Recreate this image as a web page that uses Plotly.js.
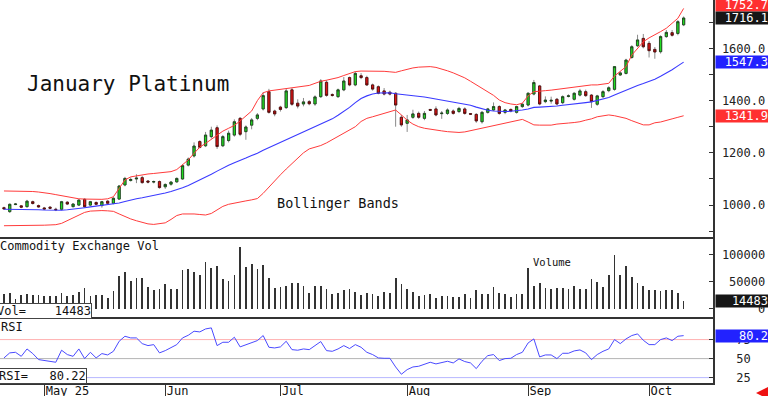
<!DOCTYPE html>
<html>
<head>
<meta charset="utf-8">
<script src="https://cdn.plot.ly/plotly-3.0.1.min.js"></script>
<style>html,body{margin:0;padding:0;background:#fff;}#chart{width:768px;height:396px;}</style>
</head>
<body>
<div id="chart"></div>
<script>
// ---------- DATA ----------
const openP = [990,975,1002,997,994,1013,998,989,992,984,
  984,1011,994,1000,1022,1000,1010,998,1015,1007,
  1023,1077,1094,1100,1105,1092,1088,1090,1070,1080,
  1089,1100,1153,1188,1243,1227,1262,1296,1227,1247,
  1268,1332,1281,1306,1332,1368,1434,1360,1375,1373,
  1441,1390,1387,1396,1387,1415,1470,1423,1415,1441,
  1488,1460,1495,1488,1460,1453,1437,1432,1428,1336,
  1313,1336,1351,1332,1366,1368,1350,1351,1360,1358,
  1368,1350,1347,1319,1355,1364,1377,1355,1366,1355,
  1377,1383,1425,1456,1396,1398,1405,1392,1416,1405,
  1421,1434,1421,1386,1415,1438,1443,1498,1504,1565,
  1610,1638,1619,1596,1587,1645,1660,1657,1690];
const highP = [994,1006,1008,1000,1020,1017,1002,993,996,990,
  1016,1015,1007,1023,1026,1016,1014,1016,1019,1030,
  1076,1108,1106,1118,1112,1096,1094,1094,1083,1092,
  1106,1156,1182,1240,1248,1280,1300,1305,1268,1285,
  1328,1337,1305,1333,1352,1432,1445,1365,1380,1445,
  1448,1405,1410,1402,1420,1482,1478,1428,1446,1490,
  1492,1512,1505,1495,1465,1458,1448,1438,1432,1345,
  1345,1365,1358,1360,1368,1378,1360,1370,1366,1376,
  1374,1352,1352,1360,1372,1393,1382,1368,1370,1380,
  1390,1432,1479,1460,1416,1415,1410,1420,1424,1432,
  1445,1442,1425,1422,1440,1455,1532,1512,1560,1612,
  1652,1655,1628,1605,1650,1670,1670,1708,1722];
const lowP = [982,970,1000,988,990,1002,990,982,984,977,
  980,1000,991,997,990,997,999,990,1003,1003,
  1020,1072,1090,1084,1082,1083,1083,1063,1062,1074,
  1085,1097,1148,1182,1217,1222,1255,1215,1222,1240,
  1262,1264,1250,1290,1325,1362,1350,1340,1358,1368,
  1380,1370,1378,1382,1380,1410,1415,1415,1410,1436,
  1455,1455,1482,1456,1438,1424,1420,1420,1300,1300,
  1280,1330,1330,1325,1360,1340,1330,1345,1346,1352,
  1346,1345,1315,1312,1350,1360,1346,1348,1355,1350,
  1372,1378,1420,1382,1390,1388,1382,1386,1412,1400,
  1416,1414,1372,1380,1410,1432,1438,1494,1500,1560,
  1605,1600,1565,1560,1580,1640,1645,1650,1685];
const closeP = [986,1003,1004,992,1015,1006,993,985,988,982,
  1013,1004,1004,1019,994,1013,1003,1013,1007,1026,
  1073,1102,1098,1103,1086,1088,1090,1067,1079,1088,
  1102,1151,1176,1226,1221,1268,1287,1224,1262,1275,
  1319,1271,1299,1326,1345,1419,1355,1349,1366,1437,
  1386,1379,1395,1388,1414,1475,1420,1420,1441,1475,
  1460,1504,1488,1460,1444,1428,1425,1425,1383,1307,
  1326,1349,1336,1351,1363,1345,1352,1364,1351,1370,
  1351,1348,1322,1355,1368,1377,1351,1364,1360,1377,
  1386,1428,1469,1387,1402,1401,1387,1415,1418,1428,
  1437,1419,1396,1418,1434,1449,1530,1506,1555,1606,
  1632,1606,1591,1586,1645,1661,1650,1702,1716.1];
const bbUpper = [1054,1054,1054,1054,1053,1052,1050,1048,1044,1040,
  1036,1032,1028,1024,1023,1022,1022,1022,1024,1032,
  1064,1096,1108,1112,1116,1119,1121,1123,1125,1128,
  1136,1153,1173,1198,1222,1236,1252,1270,1283,1294,
  1305,1322,1340,1360,1400,1430,1437,1440,1443,1446,
  1449,1451,1453,1458,1466,1474,1478,1482,1488,1496,
  1505,1511,1513,1513,1513,1513,1512,1510,1508,1514,
  1520,1525,1528,1530,1530,1527,1521,1514,1506,1498,
  1487,1474,1460,1446,1432,1420,1402,1392,1387,1384,
  1390,1418,1434,1437,1438,1440,1443,1446,1449,1452,
  1456,1458,1460,1460,1462,1466,1494,1512,1530,1574,
  1598,1625,1640,1651,1664,1677,1696,1715,1752.7];
const bbMiddle = [984,984,984,984,984,983,982,981,980,979,
  980,982,984,987,990,993,996,998,1000,1003,
  1008,1014,1020,1024,1028,1032,1036,1041,1046,1052,
  1058,1066,1075,1085,1095,1105,1118,1130,1142,1152,
  1162,1170,1180,1190,1198,1210,1220,1228,1238,1248,
  1258,1268,1278,1288,1298,1308,1318,1330,1344,1358,
  1374,1392,1408,1418,1425,1429,1430,1430,1426,1424,
  1422,1420,1417,1414,1410,1406,1402,1398,1394,1390,
  1388,1382,1375,1368,1363,1360,1358,1358,1359,1361,
  1364,1368,1374,1375,1376,1378,1379,1382,1384,1386,
  1389,1392,1395,1400,1406,1412,1421,1431,1441,1451,
  1458,1465,1472,1482,1493,1504,1518,1533,1547.3];
const bbLower = [921,921,921,922,922,922,923,923,924,925,
  930,940,950,962,972,977,979,979,978,976,
  966,956,947,940,934,928,926,928,932,945,
  960,966,967,966,964,962,968,980,995,1003,
  1008,1012,1016,1020,1025,1045,1070,1092,1116,1138,
  1160,1180,1200,1215,1222,1228,1238,1250,1262,1275,
  1285,1300,1320,1332,1338,1345,1352,1358,1364,1345,
  1325,1310,1300,1294,1290,1287,1284,1281,1279,1278,
  1280,1285,1290,1294,1300,1305,1310,1316,1319,1325,
  1328,1318,1307,1306,1305,1306,1310,1313,1314,1316,
  1319,1325,1330,1338,1342,1345,1342,1338,1332,1323,
  1315,1307,1307,1315,1318,1323,1330,1336,1341.9];
const volume = [26970,29970,18730,25100,28100,25100,25100,23790,23790,23790,
  29970,23790,25100,31280,39330,23790,25100,25100,20600,33150,
  61250,68740,51880,56190,56940,41200,35020,37460,45700,36340,
  37460,72490,73800,68740,62560,86160,74920,79980,55070,51880,
  63120,114250,76800,83100,73800,81200,58000,38200,40600,42500,
  48700,48700,42500,28800,42500,42500,36340,26970,29970,35020,
  37460,31840,25100,29970,28100,23790,31840,28800,57500,45700,
  36340,31280,23790,25100,26970,20600,23790,23790,21910,21910,
  28100,20600,34460,28100,26970,40600,29970,26970,22480,26970,
  26970,75670,42500,47570,39330,36340,38200,38200,37460,42500,
  36340,37460,55070,50600,40600,62560,100000,62560,79980,58060,
  48700,42500,35020,35020,33150,35020,35020,29970,14483];
const rsi = [50.9,57.5,58.3,53,62.7,56.6,48.7,47.4,46.5,45.2,
  61,55.3,53,62.7,50,58.3,50.9,56.6,54.8,59.6,
  72.8,79.4,77.2,77.2,69.7,67.1,68.4,57.5,60.5,64,
  68.4,77.2,80.7,86,85.1,89,90.4,67.1,71.5,71.5,
  78.1,65.4,68.4,71.5,73.7,80.3,64.9,64,65.4,72.8,
  61.8,61,62.7,61.8,67.1,72.4,60.5,59.6,62.7,67.1,
  63.2,68.4,64.9,58.3,55.3,50.9,50.4,50.4,39,29.4,
  35.5,39,39.9,43,45.2,43,44.3,46.5,44.3,49.6,
  46.1,44.3,36.8,46.5,53.9,55.3,47.4,50,50.4,55.3,
  58.3,70.6,75.9,52.2,54.8,54.8,50,57,57,60.1,
  61.4,57.5,48.7,55.3,59.6,62.7,75,69.7,75.9,80.3,
  82.5,74.1,68.4,68.4,75,77.2,73.7,79.4,80.22];
const monthIdx = [7, 28, 48, 70, 91, 112];
const monthLabels = ["May 25", "Jun", "Jul", "Aug", "Sep", "Oct"];
const priceTicks = [1000, 1200, 1400, 1600];
const volTicks = [0, 50000, 100000];
const rsiTicks = [25, 50, 75];
const rsiLevels = [75, 50, 25];

// ---------- BUILD ----------
const n = closeP.length;
const idx = closeP.map((_, i) => i);
const bodyHigh = openP.map((o, i) => Math.max(o, closeP[i]));
const bodyLow = openP.map((o, i) => Math.min(o, closeP[i]));
const last = n - 1;
const MONO = 'DejaVu Sans Mono';
const PH = 383; // plot-area height in px
const py = px => (PH - px) / PH;
const nb = k => '\u00a0'.repeat(k);
const pad = (s, w) => nb(Math.max(0, w - s.length)) + s;

const traces = [
  {type: 'candlestick', x: idx, open: openP, high: highP, low: lowP, close: closeP,
   xaxis: 'x', yaxis: 'y', hoverinfo: 'skip',
   increasing: {line: {color: '#8a8a8a', width: 1}, fillcolor: '#8a8a8a'},
   decreasing: {line: {color: '#8a8a8a', width: 1}, fillcolor: '#8a8a8a'}},
  {type: 'candlestick', x: idx, open: openP, high: bodyHigh, low: bodyLow, close: closeP,
   xaxis: 'x', yaxis: 'y', hoverinfo: 'skip',
   increasing: {line: {color: '#1a3a1a', width: 0.8}, fillcolor: '#22dd22'},
   decreasing: {line: {color: '#4a0a0a', width: 0.8}, fillcolor: '#e01515'}},
  {type: 'scatter', mode: 'lines', x: idx, y: bbUpper, xaxis: 'x', yaxis: 'y',
   line: {color: '#ff3b3b', width: 1}, hoverinfo: 'skip'},
  {type: 'scatter', mode: 'lines', x: idx, y: bbLower, xaxis: 'x', yaxis: 'y',
   line: {color: '#ff3b3b', width: 1}, hoverinfo: 'skip'},
  {type: 'scatter', mode: 'lines', x: idx, y: bbMiddle, xaxis: 'x', yaxis: 'y',
   line: {color: '#3a3aff', width: 1.1}, hoverinfo: 'skip'},
  {type: 'bar', x: idx, y: volume, xaxis: 'x', yaxis: 'y2', width: 0.3,
   marker: {color: '#333333', line: {width: 0}}, hoverinfo: 'skip'},
  {type: 'scatter', mode: 'lines', x: idx, y: rsi, xaxis: 'x', yaxis: 'y3',
   line: {color: '#4a4aff', width: 1}, hoverinfo: 'skip'}
];

const tickFont = {family: MONO, size: 12, color: '#222'};
const yCommon = {side: 'right', showgrid: false, zeroline: false, showline: true,
  linecolor: '#333', linewidth: 1.5, ticks: 'inside', ticklen: 4, tickcolor: '#333',
  tickfont: tickFont, ticklabelstandoff: 5, fixedrange: true};

const shapes = [
  {type: 'line', xref: 'paper', yref: 'paper', x0: 0, x1: 1, y0: py(238), y1: py(238),
   line: {color: '#333', width: 2}},
  {type: 'line', xref: 'paper', yref: 'paper', x0: 0, x1: 1, y0: py(318), y1: py(318),
   line: {color: '#333', width: 2}}
];
const lvlColors = ['#ffb0b0', '#b4b4b4', '#b8b8ff'];
rsiLevels.forEach((v, k) => shapes.push({type: 'line', xref: 'paper', yref: 'y3', x0: 0, x1: 1,
  y0: v, y1: v, layer: 'below', line: {color: lvlColors[k], width: 1}}));

const boxAnn = (yref, y, text, bg, shift) => ({xref: 'paper', x: 1, xanchor: 'left', xshift: 2,
  yref: yref, y: y, yanchor: 'middle', yshift: shift || 0, text: text, showarrow: false,
  bgcolor: bg, font: {family: MONO, size: 12, color: '#fff'}, width: 52, height: 12,
  align: 'right', borderpad: 0});

const annotations = [
  {xref: 'paper', yref: 'paper', x: 25 / 713, y: py(84), xanchor: 'left', yanchor: 'middle',
   text: 'January Platinum', showarrow: false, font: {family: MONO, size: 21, color: '#111'}},
  {xref: 'paper', yref: 'paper', x: 275 / 713, y: py(203), xanchor: 'left', yanchor: 'middle',
   text: 'Bollinger Bands', showarrow: false, font: {family: MONO, size: 13.5, color: '#111'}},
  {xref: 'paper', yref: 'paper', x: 0, xshift: -2, y: py(246), xanchor: 'left', yanchor: 'middle',
   text: 'Commodity Exchange Vol', showarrow: false, font: {family: MONO, size: 12, color: '#111'}},
  {xref: 'paper', yref: 'paper', x: 531 / 713, y: py(262), xanchor: 'left', yanchor: 'middle',
   text: 'Volume', showarrow: false, font: {family: MONO, size: 10.5, color: '#111'}},
  {xref: 'paper', yref: 'paper', x: 0, xshift: -1, y: py(327), xanchor: 'left', yanchor: 'middle',
   text: 'RSI', showarrow: false, font: {family: MONO, size: 12, color: '#111'}},
  {xref: 'paper', yref: 'paper', x: 0, xshift: -4, y: py(311), xanchor: 'left', yanchor: 'middle',
   text: 'Vol=' + nb(4) + String(volume[last]), showarrow: false, bgcolor: '#fff',
   bordercolor: '#444', borderwidth: 1, borderpad: 0, font: {family: MONO, size: 12, color: '#111'}},
  {xref: 'paper', yref: 'paper', x: 0, xshift: -2, y: py(376), xanchor: 'left', yanchor: 'middle',
   text: 'RSI=' + nb(3) + rsi[last].toFixed(2), showarrow: false, bgcolor: '#fff',
   bordercolor: '#444', borderwidth: 1, borderpad: 0, font: {family: MONO, size: 12, color: '#111'}},
  boxAnn('y', bbUpper[last], bbUpper[last].toFixed(1), '#ff3030', 3),
  boxAnn('y', closeP[last], closeP[last].toFixed(1), '#161616', 0),
  boxAnn('y', bbMiddle[last], bbMiddle[last].toFixed(1), '#2222ff', 0),
  boxAnn('y', bbLower[last], bbLower[last].toFixed(1), '#ff3030', 0),
  boxAnn('y2', volume[last], String(volume[last]), '#161616', 0),
  boxAnn('y3', rsi[last], rsi[last].toFixed(1), '#2222ff', 0),
  {xref: 'paper', yref: 'paper', x: 756 / 713, y: py(393), ax: 12, ay: 0, axref: 'pixel', ayref: 'pixel',
   showarrow: true, arrowhead: 2, arrowsize: 1, arrowwidth: 3, arrowcolor: '#ee1111', text: ''}
];

const layout = {
  width: 768, height: 396,
  margin: {l: 0, r: 55, t: 0, b: 13, pad: 0},
  paper_bgcolor: '#fff', plot_bgcolor: '#fff', showlegend: false,
  boxgap: 0.45, boxmode: 'overlay', bargap: 0,
  xaxis: {domain: [0, 1], range: [-0.69, 123.1], anchor: 'y3', showgrid: false, zeroline: false,
    showline: true, linecolor: '#333', linewidth: 2, ticks: 'outside', ticklen: 13, tickwidth: 1,
    tickcolor: '#333', tickmode: 'array', tickvals: monthIdx, ticktext: monthLabels,
    ticklabelposition: 'outside right', ticklabelstandoff: -4,
    tickfont: {family: MONO, size: 12, color: '#111'}, rangeslider: {visible: false}, fixedrange: true},
  yaxis: Object.assign({}, yCommon, {domain: [py(238), 1], range: [874, 1785], anchor: 'x',
    tickmode: 'array', tickvals: priceTicks, ticktext: priceTicks.map(v => v.toFixed(1)),
    minor: {tickmode: 'linear', tick0: 1000, dtick: 100, ticks: 'inside', ticklen: 4, tickcolor: '#333', showgrid: false}}),
  yaxis2: Object.assign({}, yCommon, {domain: [py(318), py(238)], range: [-16850, 131000], anchor: 'x',
    tickmode: 'array', tickvals: volTicks, ticktext: volTicks.map(v => pad(String(v), 6))}),
  yaxis3: Object.assign({}, yCommon, {domain: [0, py(318)], range: [17.9, 103.4], anchor: 'x',
    tickmode: 'array', tickvals: rsiTicks, ticktext: rsiTicks.map(v => pad(String(v), 4))}),
  shapes: shapes,
  annotations: annotations
};

Plotly.newPlot('chart', traces, layout, {displayModeBar: false, staticPlot: true});
</script>
</body>
</html>
